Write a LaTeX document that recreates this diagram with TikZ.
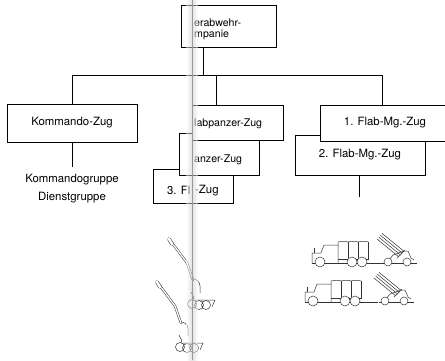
\documentclass[tikz,border=0pt]{standalone}
\usepackage{fontspec}
\setmainfont{TeX Gyre Heros}
\begin{document}
\begin{tikzpicture}[x=1pt,y=-1pt,
  box/.style={draw, line width=1pt, fill=white, inner sep=0pt, font=\fontsize{11.4}{13}\selectfont},
  lbl/.style={font=\fontsize{11.4}{13}\selectfont, inner sep=0pt},
  lblg/.style={font=\fontsize{10.6}{11}\selectfont, inner sep=0pt},
  conn/.style={line width=1pt},
  veh/.style={line width=0.5pt, draw=black!80},
  truck/.pic={
    \draw[veh] (0,0) -- (0,-10) -- (9,-10) -- (12,-18) -- (26,-18) -- (26,0);
    \draw[veh] (2,-10) -- (2,-15);
    \draw[veh] (26,-4) -- (56,-4) -- (56,-21);
    \draw[veh] (26,-18) -- (26,-21) .. controls (31,-22) and (35,-22) .. (36,-21)
               .. controls (40,-22) and (44,-22) .. (46,-21)
               .. controls (50,-22) and (54,-22) .. (56,-21);
    \draw[veh] (36,-21) -- (36,-5) (46,-21) -- (46,-5);
    \draw[veh] (0,0) -- (73,0);
    \draw[veh, fill=white] (8,-1) circle (5pt) (40,-1) circle (5pt) (50,-1) circle (5pt);
  },
  launcher/.pic={
    \draw[veh] (-3,0) -- (32,0);
    \draw[veh] (4,-3) -- (8,-8) -- (19,-12) -- (23,-12) -- (26,-5) -- (29,-3);
    \draw[veh] (-8,-24) -- (14,-6) (-6.3,-25.9) -- (15.7,-7.9)
               (-4.6,-27.7) -- (17.4,-9.7) (-2.9,-29.6) -- (19.1,-11.6);
    \draw[veh] (12,-5) -- (20,-13);
    \draw[veh, fill=white] (3,-1) circle (4pt) (22,-1) circle (4pt);
  },
  gun/.pic={
    \draw[veh, double=white, double distance=1.3pt, line cap=round, line join=round]
      (-28,-64) -- (-11,-41) -- (-5,-24);
    \draw[veh, double=white, double distance=2.6pt, line cap=round] (-29,-65) -- (-26,-60);
    \draw[veh] (-4,-25) .. controls (0,-24) and (3,-22) .. (2,-11);
    \draw[veh] (-7,-12) -- (-4,-6) -- (-6,-3);
    \draw[veh] (-3,-4) -- (17,-4) -- (14,3);
    \draw[veh, fill=white] (-6,0) circle (4.5pt) (1,1) circle (4.5pt) (8,1) circle (4.5pt);
  },
]
\useasboundingbox (0,0) rectangle (445,360);
\clip (0,0) rectangle (445,360);

% connectors
\coordinate (busL) at (73,75);
\coordinate (busR) at (382,75);
\coordinate (jT) at (203,75);
\coordinate (jP) at (216,75);
\coordinate (kend) at (72,167);
\coordinate (fend) at (359,197);

% boxes
\node[box, minimum width=95pt, minimum height=42pt] (T) at (228.5,26) {};
\node[lblg, anchor=west, align=left] (Tt) at (194,29) {erabwehr-\\mpanie};

\node[box, minimum width=130pt, minimum height=38pt] (K) at (72,123) {Kommando-Zug};
\node[lbl, anchor=base] (kg) at (72,182) {Kommandogruppe};
\node[lbl, anchor=base] (dg) at (72,200.5) {Dienstgruppe};

\node[box, minimum width=80pt, minimum height=34pt] (P3) at (193,186) {};
\node[box, minimum width=80pt, minimum height=42pt] (P2) at (219,154) {};
\node[box, minimum width=91pt, minimum height=35pt] (P1) at (237.5,122.5) {};
\node[lblg, anchor=west] (P1t) at (194,124) {labpanzer-Zug};
\node[lblg, anchor=west] (P2t) at (194,160) {anzer-Zug};
\node[lbl, anchor=east] (P3a) at (190.5,190) {3. Fl};
\node[lbl, anchor=west] (P3b) at (195,191) {-Zug};

\node[box, minimum width=130pt, minimum height=40pt] (F2) at (360,155) {2. Flab-Mg.-Zug};
\node[box, minimum width=130pt, minimum height=36pt] (F1) at (385,123) {1. Flab-Mg.-Zug};

\draw[conn] (K.north) -- (K.north |- busL) -- (busR) -- (busR |- F1.north);
\draw[conn] (T.south -| jT) -- (jT);
\draw[conn] (jP) -- (jP |- P1.north);
\draw[conn] (K.south) -- (kend);
\draw[conn] (F2.south -| fend) -- (fend);

% vehicles
\pic at (312,263) {truck};
\pic at (385,263) {launcher};
\pic at (305,302) {truck};
\pic at (382,302) {launcher};
\pic at (198,304) {gun};
\pic at (186,347) {gun};

% gutter
\shade[left color=white, right color=black!22, opacity=0.5] (186,0) rectangle (192,360);
\shade[left color=black!22, right color=white, opacity=0.5] (192,0) rectangle (198,360);
\draw[black!40, line width=0.5pt] (192,0) -- (192,360);
\end{tikzpicture}
\end{document}
